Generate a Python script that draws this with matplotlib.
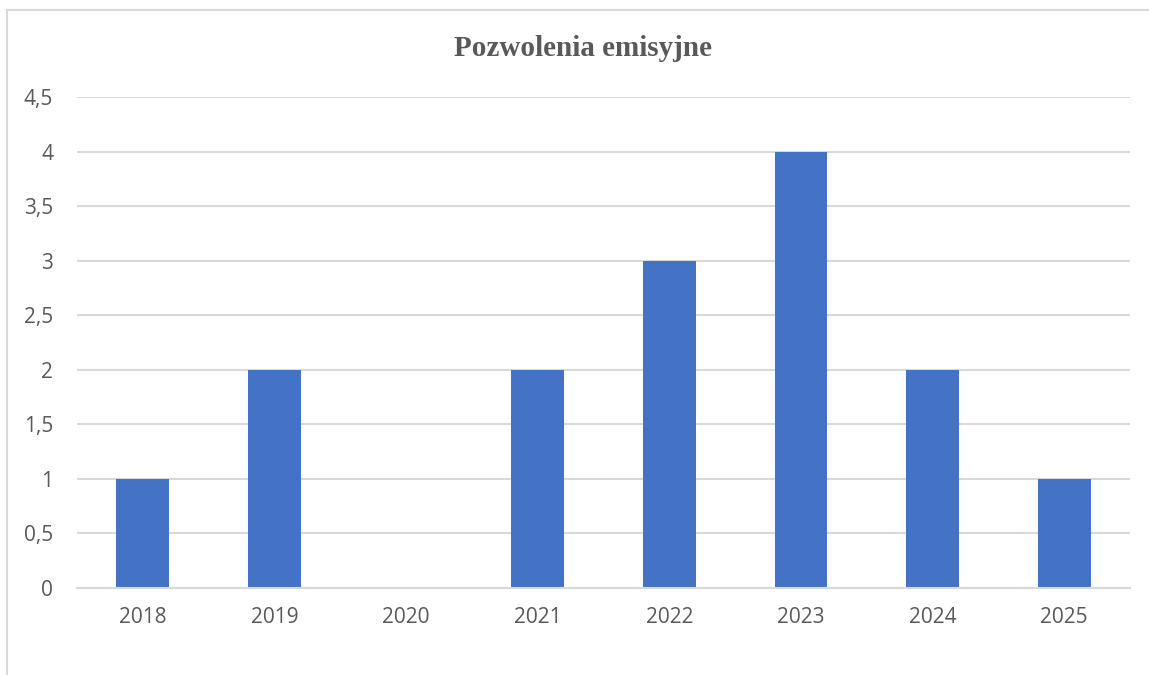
import numpy as np
import matplotlib.pyplot as plt
from matplotlib.patches import Rectangle

years = ['2018', '2019', '2020', '2021', '2022', '2023', '2024', '2025']
counts = [1, 2, 0, 2, 3, 4, 2, 1]
yticks = [0, 0.5, 1, 1.5, 2, 2.5, 3, 3.5, 4, 4.5]
ytick_labels = ['0', '0,5', '1', '1,5', '2', '2,5', '3', '3,5', '4', '4,5']

text_color = '#595959'
grid_color = '#d9d9d9'

fig = plt.figure(figsize=(11.49, 6.75), dpi=100)
ax = fig.add_axes([0.067, 0.1289, 0.9165, 0.7274])

x = np.arange(len(years))
ax.bar(x, counts, width=0.40, color='#4472C4', zorder=3)

ax.set_xlim(-0.5, len(years) - 0.5)
ax.set_ylim(0, 4.5)
ax.set_xticks(x)
ax.set_xticklabels(years)
ax.set_yticks(yticks)
ax.set_yticklabels(ytick_labels)

for lab in ax.get_xticklabels() + ax.get_yticklabels():
    lab.set_fontfamily('Open Sans')
    lab.set_fontsize(15)
    lab.set_color(text_color)

ax.tick_params(axis='both', length=0)
ax.tick_params(axis='y', pad=17)
ax.tick_params(axis='x', pad=14)

ax.grid(axis='y', color=grid_color, linewidth=1.5, zorder=0)
for side in ['left', 'right', 'top']:
    ax.spines[side].set_visible(False)
ax.spines['bottom'].set_color(grid_color)
ax.spines['bottom'].set_linewidth(1.5)
ax.spines['bottom'].set_zorder(4)

fig.text(583 / 1149, 0.928, 'Pozwolenia emisyjne', ha='center', va='center',
         fontsize=21, fontweight='bold', family='Liberation Serif', color=text_color)

# outer chart border (cut off at right and bottom in the original)
fig.patches.append(Rectangle((7 / 1149, -0.1), 1.2, 1.1 - 10 / 675,
                             transform=fig.transFigure, fill=False,
                             edgecolor=grid_color, linewidth=1.5))

fig.savefig('out.png', dpi=100)
